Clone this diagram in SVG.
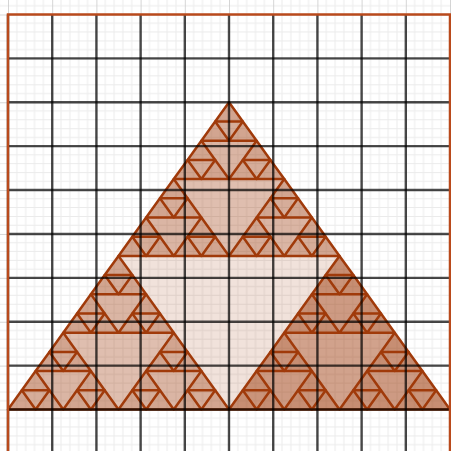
<svg xmlns="http://www.w3.org/2000/svg" xmlns:xlink="http://www.w3.org/1999/xlink" width="451" height="451" viewBox="0 0 451 451">
  <style>
    .minor { stroke: #ebebeb; stroke-width: 1; }
    .majl { stroke: #c8c8c8; stroke-width: 1.5; }
    .major { stroke: #000; stroke-opacity: 0.7; stroke-width: 2.4; }
    .fill { fill: #993300; fill-opacity: 0.06; stroke: none; }
    .fill0 { fill: #993300; fill-opacity: 0.14; stroke: none; }
    .fill1 { fill: #993300; fill-opacity: 0.2; stroke: none; }
    .edge { fill: none; stroke: #a03a0a; stroke-width: 2.5; stroke-linejoin: round; }
    .frame { fill: none; stroke: #b94a1c; stroke-width: 2.5; }
  </style>
  <defs>
    <pattern id="lightgrid" patternUnits="userSpaceOnUse" x="8" y="14.5" width="44.2" height="43.89">
      <line class="minor" x1="8.84" y1="0" x2="8.84" y2="43.89"/>
      <line class="minor" x1="17.68" y1="0" x2="17.68" y2="43.89"/>
      <line class="minor" x1="26.52" y1="0" x2="26.52" y2="43.89"/>
      <line class="minor" x1="35.36" y1="0" x2="35.36" y2="43.89"/>
      <line class="minor" x1="0" y1="8.78" x2="44.2" y2="8.78"/>
      <line class="minor" x1="0" y1="17.56" x2="44.2" y2="17.56"/>
      <line class="minor" x1="0" y1="26.33" x2="44.2" y2="26.33"/>
      <line class="minor" x1="0" y1="35.11" x2="44.2" y2="35.11"/>
      <line class="majl" x1="0" y1="0" x2="0" y2="43.89"/>
      <line class="majl" x1="0" y1="0" x2="44.2" y2="0"/>
    </pattern>
    <!-- fill hierarchy -->
    <polygon id="t4" class="fill" points="0,0 -13.8125,19.2 13.8125,19.2"/>
    <g id="F3">
      <polygon class="fill" points="0,0 -27.625,38.4 27.625,38.4"/>
      <use xlink:href="#t4"/>
      <use xlink:href="#t4" transform="translate(-13.8125,19.2)"/>
      <use xlink:href="#t4" transform="translate(13.8125,19.2)"/>
    </g>
    <g id="F2">
      <polygon class="fill" points="0,0 -55.25,76.8 55.25,76.8"/>
      <use xlink:href="#F3"/>
      <use xlink:href="#F3" transform="translate(-27.625,38.4)"/>
      <use xlink:href="#F3" transform="translate(27.625,38.4)"/>
    </g>
    <g id="F1">
      <polygon class="fill1" points="0,0 -110.5,153.6 110.5,153.6"/>
      <use xlink:href="#F2"/>
      <use xlink:href="#F2" transform="translate(-55.25,76.8)"/>
      <use xlink:href="#F2" transform="translate(55.25,76.8)"/>
    </g>
    <g id="F0">
      <polygon class="fill0" points="0,0 -221,307.2 221,307.2"/>
      <use xlink:href="#F1"/>
      <use xlink:href="#F1" transform="translate(-110.5,153.6)"/>
      <use xlink:href="#F1" transform="translate(110.5,153.6)"/>
    </g>
    <!-- stroke hierarchy -->
    <polygon id="s4" class="edge" points="0,0 -13.8125,19.2 13.8125,19.2"/>
    <g id="S3">
      <use xlink:href="#s4"/>
      <use xlink:href="#s4" transform="translate(-13.8125,19.2)"/>
      <use xlink:href="#s4" transform="translate(13.8125,19.2)"/>
    </g>
    <g id="S2">
      <use xlink:href="#S3"/>
      <use xlink:href="#S3" transform="translate(-27.625,38.4)"/>
      <use xlink:href="#S3" transform="translate(27.625,38.4)"/>
    </g>
    <g id="S1">
      <use xlink:href="#S2"/>
      <use xlink:href="#S2" transform="translate(-55.25,76.8)"/>
      <use xlink:href="#S2" transform="translate(55.25,76.8)"/>
    </g>
    <g id="S0">
      <use xlink:href="#S1"/>
      <use xlink:href="#S1" transform="translate(-110.5,153.6)"/>
      <use xlink:href="#S1" transform="translate(110.5,153.6)"/>
    </g>
  </defs>

  <rect width="451" height="451" fill="#ffffff"/>
  <rect id="light-grid" width="451" height="451" fill="url(#lightgrid)"/>

  <g id="sierpinski-fills">
    <use xlink:href="#F0" transform="translate(229,102.3)"/>
    <polygon class="fill1" points="339.5,255.9 229,409.5 450,409.5"/>
  </g>
  <g id="sierpinski-edges">
    <use xlink:href="#S0" transform="translate(229,102.3)"/>
  </g>

  <g id="major-grid">
    <line class="major" x1="8" y1="14.5" x2="8" y2="451"/>
    <line class="major" x1="52.2" y1="14.5" x2="52.2" y2="451"/>
    <line class="major" x1="96.4" y1="14.5" x2="96.4" y2="451"/>
    <line class="major" x1="140.6" y1="14.5" x2="140.6" y2="451"/>
    <line class="major" x1="184.8" y1="14.5" x2="184.8" y2="451"/>
    <line class="major" x1="229" y1="14.5" x2="229" y2="451"/>
    <line class="major" x1="273.2" y1="14.5" x2="273.2" y2="451"/>
    <line class="major" x1="317.4" y1="14.5" x2="317.4" y2="451"/>
    <line class="major" x1="361.6" y1="14.5" x2="361.6" y2="451"/>
    <line class="major" x1="405.8" y1="14.5" x2="405.8" y2="451"/>
    <line class="major" x1="8" y1="58.39" x2="450" y2="58.39"/>
    <line class="major" x1="8" y1="102.28" x2="450" y2="102.28"/>
    <line class="major" x1="8" y1="146.17" x2="450" y2="146.17"/>
    <line class="major" x1="8" y1="190.06" x2="450" y2="190.06"/>
    <line class="major" x1="8" y1="233.95" x2="450" y2="233.95"/>
    <line class="major" x1="8" y1="277.84" x2="450" y2="277.84"/>
    <line class="major" x1="8" y1="321.73" x2="450" y2="321.73"/>
    <line class="major" x1="8" y1="365.62" x2="450" y2="365.62"/>
    <line class="major" x1="8" y1="409.51" x2="450" y2="409.51"/>
  </g>

  <g id="frame">
    <polyline class="frame" points="8,451 8,14.5 450,14.5 450,451"/>
  </g>
</svg>
